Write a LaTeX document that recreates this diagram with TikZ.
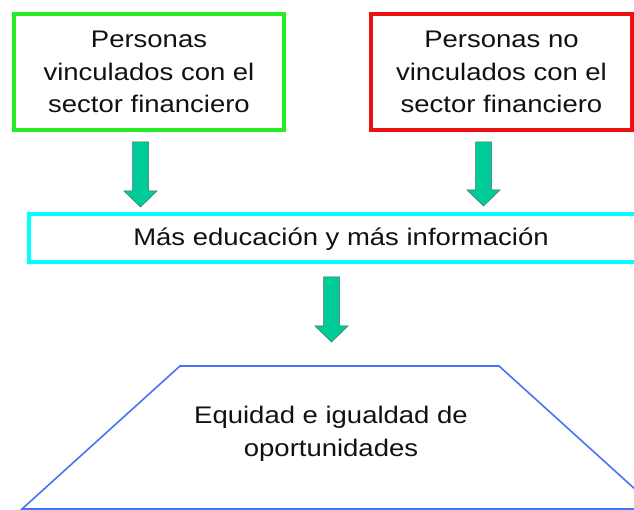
\documentclass[tikz,border=0pt]{standalone}
\usepackage{fontspec}
\setmainfont[FakeStretch=1.145]{Liberation Sans}
\usepackage{tikz}
\usetikzlibrary{calc}
\definecolor{ink}{HTML}{111111}
\definecolor{boxgreen}{HTML}{22EE22}
\definecolor{boxred}{HTML}{EE1111}
\definecolor{boxcyan}{HTML}{00FFFF}
\definecolor{trapblue}{HTML}{4A72F5}
\definecolor{arrfill}{HTML}{00CC99}
\definecolor{arredge}{HTML}{4D6B60}
\tikzset{
  groupbox/.style={draw, line width=4pt, outer sep=0pt, inner sep=0pt, align=center, text=ink,
    execute at begin node={\rule{0pt}{21pt}}},
  midbox/.style={draw=boxcyan, line width=4.5pt, outer sep=0pt, align=center, text=ink,
    text height=20pt, text depth=4pt},
  goaltext/.style={align=center, text=ink, inner sep=0pt},
  trapline/.style={draw=trapblue, line width=1.6pt},
  blockarr/.style={fill=arrfill, draw=arredge, line width=0.5pt}
}
\newcommand{\blockarrow}[2]{%
  \path[blockarr] let \p1=(#1), \p2=(#2) in
    (\x1-8pt,\y1) -- (\x1+8pt,\y1) -- (\x1+8pt,\y2+16pt) -- (\x1+16.5pt,\y2+16pt)
    -- (\x1,\y2) -- (\x1-16.5pt,\y2+16pt) -- (\x1-8pt,\y2+16pt) -- cycle;}

\begin{document}
\begin{tikzpicture}[x=1pt, y=-1pt, font={\fontsize{24}{32.5}\selectfont}]
  \useasboundingbox (0,0) rectangle (634,510);
  \clip (0,0) rectangle (634,510);

  \node[groupbox, draw=boxgreen, minimum width=270pt, minimum height=116pt] (linked) at (149,72) {Personas\\vinculados con el\\sector financiero};
  \node[groupbox, draw=boxred, minimum width=261pt, minimum height=116pt] (unlinked) at (501.5,72) {Personas no\\vinculados con el\\sector financiero};
  \node[midbox, minimum width=624pt, minimum height=48pt] (educ) at (341,238) {Más educación y más información};

  \draw[trapline] (180,366) -- (499,366) -- (657,509) -- (22,509) -- cycle;
  \coordinate (goaltop) at (331.5,366);
  \node[goaltext] (goal) at (331,434) {Equidad e igualdad de\\oportunidades};

  \coordinate (a1s) at ($(linked.south)+(-8.5,12)$);
  \coordinate (a1e) at ($(a1s |- educ.north)+(0,-7)$);
  \coordinate (a2s) at ($(unlinked.south)+(-18,12)$);
  \coordinate (a2e) at ($(a2s |- educ.north)+(0,-8)$);
  \coordinate (a3s) at ($(educ.south)+(-9.5,15)$);
  \coordinate (a3e) at ($(goaltop)+(0,-24)$);

  \blockarrow{a1s}{a1e}
  \blockarrow{a2s}{a2e}
  \blockarrow{a3s}{a3e}
\end{tikzpicture}
\end{document}
